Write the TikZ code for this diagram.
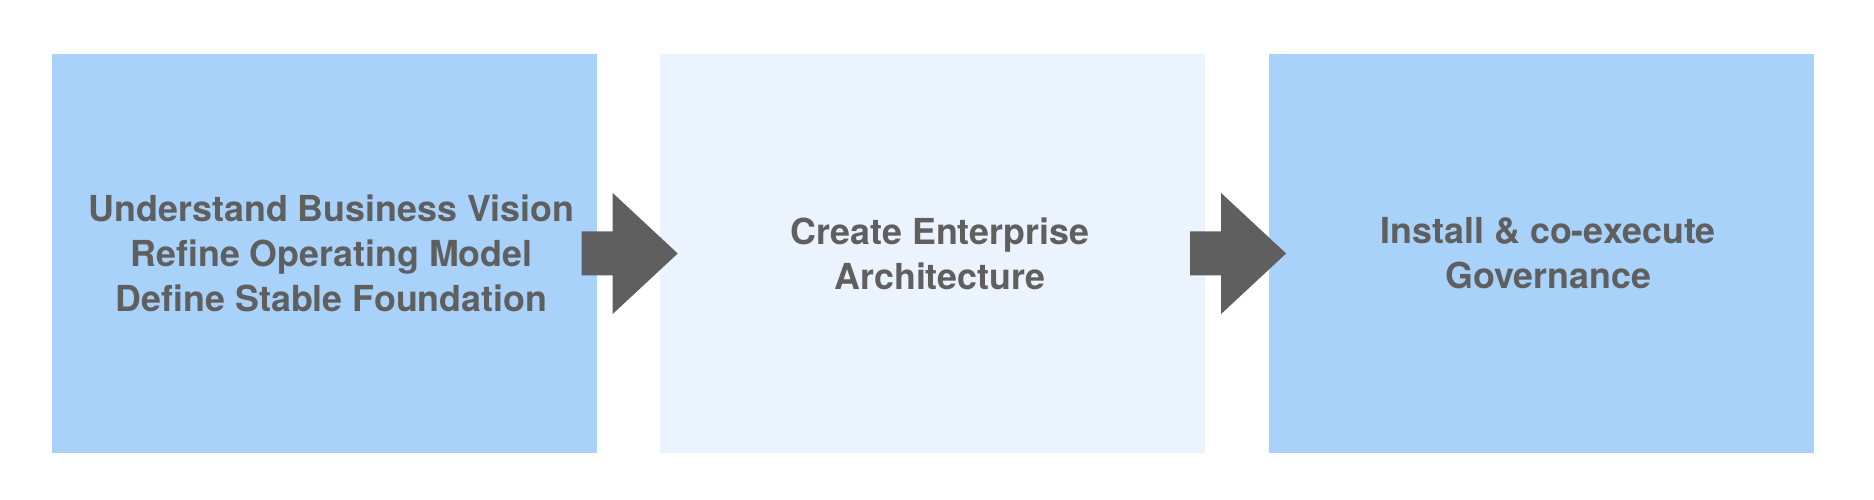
\documentclass[tikz,border=0pt]{standalone}
\usepackage{fontspec}
\setmainfont{TeX Gyre Heros}
\usepackage{xcolor}
\usepackage{tikz}
\usetikzlibrary{
	calc,											% 坐标计算
	positioning,									% 节点的高级摆放
}

\definecolor{stageblue}{HTML}{A9D2FA}
\definecolor{stagepale}{HTML}{EBF4FE}
\definecolor{stagegray}{HTML}{5F5F5F}

\begin{document}
\begin{tikzpicture}[x=1pt, y=1pt,
		stage/.style={rectangle, minimum width=545pt, minimum height=399pt, inner sep=0pt},
		stagetext/.style={align=center, text=stagegray, xshift=7pt, inner sep=0pt,
			font=\fontsize{35.8}{45}\selectfont\bfseries},
		blockarrow/.style={fill=stagegray, draw=none}]
		\useasboundingbox (0,0) rectangle (1874,500);
		\node [stage, fill=stageblue] (vision) at (324.5,246.5) {};
		\node [stage, fill=stagepale, right=63pt of vision] (arch) {};
		\node [stage, fill=stageblue, right=63pt of arch] (gov) {};
		\node [stagetext] (visiontext) at (vision.center) {Understand Business Vision\\Refine Operating Model\\Define Stable Foundation};
		\node [stagetext] (archtext) at (arch.center) {Create Enterprise\\Architecture};
		\node [stagetext] (govtext) at (gov.center) {Install \& co-execute\\Governance};
		\foreach \from/\to in {vision/arch, arch/gov} {
			\coordinate (m) at ($(\from.east)!0.5!(\to.west)$);
			\fill [blockarrow] ($(m)+(-47,22)$) -- ($(m)+(-16,22)$) -- ($(m)+(-16,60.5)$)
				-- ($(m)+(49,0)$) -- ($(m)+(-16,-60.5)$) -- ($(m)+(-16,-22)$)
				-- ($(m)+(-47,-22)$) -- cycle;
		}
	\end{tikzpicture}
\end{document}
